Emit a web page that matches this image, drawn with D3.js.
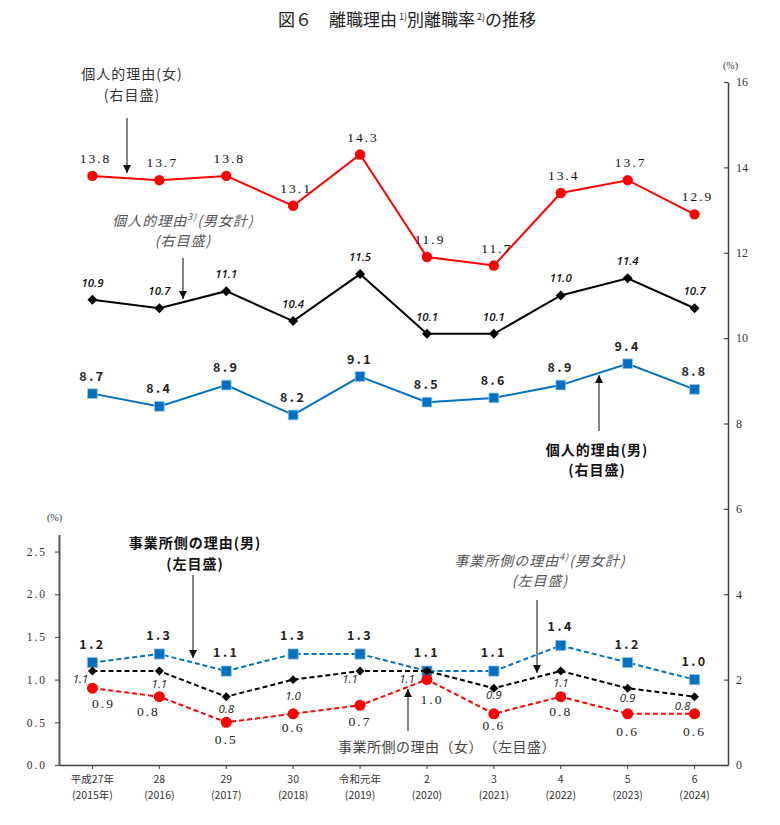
<!DOCTYPE html>
<html><head><meta charset="utf-8">
<script src="https://cdn.jsdelivr.net/npm/d3@7"></script>
<style>
body{margin:0;background:#fff;}
svg{display:block;}
</style></head>
<body>
<svg id="c" width="780" height="825" font-family="'Noto Sans CJK JP',sans-serif"></svg>
<script>
// ---- data ----
const categories = ["2015","2016","2017","2018","2019","2020","2021","2022","2023","2024"];
const xLabelTop = ["平成27年","28","29","30","令和元年","2","3","4","5","6"];
const xLabelBottom = ["(2015年)","(2016)","(2017)","(2018)","(2019)","(2020)","(2021)","(2022)","(2023)","(2024)"];
const personalFemale = [13.8,13.7,13.8,13.1,14.3,11.9,11.7,13.4,13.7,12.9];
const personalTotal  = [10.9,10.7,11.1,10.4,11.5,10.1,10.1,11.0,11.4,10.7];
const personalMale   = [8.7,8.4,8.9,8.2,9.1,8.5,8.6,8.9,9.4,8.8];
const businessMale   = [1.2,1.3,1.1,1.3,1.3,1.1,1.1,1.4,1.2,1.0];
const businessTotal  = [1.1,1.1,0.8,1.0,1.1,1.1,0.9,1.1,0.9,0.8];
const businessFemale = [0.9,0.8,0.5,0.6,0.7,1.0,0.6,0.8,0.6,0.6];
const rightTicks = [0,2,4,6,8,10,12,14,16];
const leftTicks = [0,0.5,1.0,1.5,2.0,2.5];

// label nudges (dx, dy) relative to point
const offBT = [[-12,12],[0,17],[0,16],[0,20],[-10,12],[-20,12],[0,11],[0,16],[0,14],[-12,13]];
const offBF = [[11,20],[-11,19],[0,22],[0,18],[0,21],[5,24],[0,16],[0,19],[0,22],[0,22]];

const SERIF = "'Liberation Serif','DejaVu Serif',serif";
const svg = d3.select("#c");
const x = d3.scaleBand().domain(categories).range([59,728]);
const cx = (i)=> x(categories[i]) + x.bandwidth()/2;
const yR = d3.scaleLinear().domain([0,16]).range([765,82]);
const yL = d3.scaleLinear().domain([0,2.7]).range([765,765-2.7*85.375]);

// title
const title = svg.append("text").attr("x",407).attr("y",26).attr("text-anchor","middle")
  .attr("font-size",17).attr("fill","#222");
title.append("tspan").text("図６　離職理由");
title.append("tspan").attr("font-size",9).attr("dy",-6).text(" 1)");
title.append("tspan").attr("dy",6).text("別離職率");
title.append("tspan").attr("font-size",9).attr("dy",-6).text(" 2)");
title.append("tspan").attr("dy",6).text("の推移");

// right axis
const rAxis = svg.append("g").attr("transform","translate(728,0)")
  .call(d3.axisRight(yR).tickValues(rightTicks).tickSizeInner(-4).tickSizeOuter(0).tickPadding(8));
rAxis.attr("font-family",SERIF);
rAxis.select(".domain").attr("stroke","#404040").attr("stroke-width",1.5);
rAxis.selectAll(".tick line").attr("stroke","#404040").attr("stroke-width",1.2);
rAxis.selectAll(".tick text").attr("font-size",12).attr("fill","#333");
svg.append("text").attr("x",723).attr("y",69).attr("font-size",10).attr("fill","#333")
  .attr("font-family",SERIF).text("(%)");

// left axis
const lAxis = svg.append("g").attr("transform","translate(59,0)")
  .call(d3.axisLeft(yL).tickValues(leftTicks).tickSizeInner(4).tickSizeOuter(0).tickPadding(8).tickFormat(d3.format(".1f")));
lAxis.attr("font-family",SERIF);
lAxis.select(".domain").attr("stroke","#555").attr("stroke-width",2);
lAxis.selectAll(".tick line").attr("stroke","#555").attr("stroke-width",1.2);
lAxis.selectAll(".tick text").attr("font-size",11.5).attr("letter-spacing","2px").attr("fill","#333");
svg.append("text").attr("x",47).attr("y",521).attr("font-size",10).attr("fill","#333")
  .attr("font-family",SERIF).text("(%)");

// x axis
const xAxis = svg.append("g").attr("transform","translate(0,765)")
  .call(d3.axisBottom(x).tickSizeInner(4).tickSizeOuter(0).tickFormat(""));
xAxis.select(".domain").attr("stroke","#404040").attr("stroke-width",1.5);
xAxis.selectAll(".tick line").attr("stroke","#404040");
categories.forEach((c,i)=>{
  svg.append("text").attr("x",cx(i)).attr("y",783).attr("text-anchor","middle")
    .attr("font-size",10.5).attr("fill","#333").text(xLabelTop[i]);
  svg.append("text").attr("x",cx(i)).attr("y",799).attr("text-anchor","middle")
    .attr("font-size",10.5).attr("fill","#333").text(xLabelBottom[i]);
});

function series(data, yScale, opt){
  const g = svg.append("g");
  const line = d3.line().x((d,i)=>cx(i)).y(d=>yScale(d));
  g.append("path").datum(data).attr("d",line).attr("fill","none")
    .attr("stroke",opt.color).attr("stroke-width",2)
    .attr("stroke-dasharray",opt.dash||null);
  g.selectAll(".m").data(data).enter().append("path")
    .attr("transform",(d,i)=>`translate(${cx(i)},${yScale(d)}) rotate(${opt.rot||0})`)
    .attr("d",d3.symbol().type(opt.symbol).size(opt.size)())
    .attr("fill",opt.color)
    .attr("stroke",opt.stroke||"none").attr("stroke-width",opt.stroke?0.8:0);
  g.selectAll(".l").data(data).enter().append("text")
    .attr("x",(d,i)=>cx(i)+(opt.off?opt.off[i][0]:opt.dx||0))
    .attr("y",(d,i)=>yScale(d)+(opt.off?opt.off[i][1]:opt.dy))
    .attr("text-anchor","middle")
    .attr("font-family",opt.font).attr("font-size",opt.fs)
    .attr("font-weight",opt.fw||"normal").attr("font-style",opt.fi||"normal")
    .attr("letter-spacing",opt.ls||0)
    .attr("fill",opt.tc||"#222")
    .text(d=>d.toFixed(1));
}

series(personalFemale, yR, {color:"#FF0000", symbol:d3.symbolCircle, size:85, dy:-13, dx:3,
  font:SERIF, fs:13.5, ls:"2px", tc:"#111"});
series(personalTotal, yR, {color:"#000", symbol:d3.symbolSquare, size:50, rot:45, dy:-13,
  font:"'Open Sans',sans-serif", fs:11.5, fi:"italic", fw:600, tc:"#111"});
series(personalMale, yR, {color:"#0070C0", symbol:d3.symbolSquare, size:95, stroke:"#9cc6e8", dy:-13,
  font:"'Noto Sans CJK JP',sans-serif", fs:12.5, fw:"bold", ls:"2.5px"});
series(businessMale, yL, {color:"#0070C0", symbol:d3.symbolSquare, size:105, stroke:"#9cc6e8", dy:-14, dash:"5,3",
  font:"'Noto Sans CJK JP',sans-serif", fs:12.5, fw:"bold", ls:"2.5px"});
series(businessTotal, yL, {color:"#000", symbol:d3.symbolSquare, size:40, rot:45, dash:"5,3", off:offBT,
  font:"'Open Sans',sans-serif", fs:11.5, fi:"italic"});
series(businessFemale, yL, {color:"#FF0000", symbol:d3.symbolCircle, size:95, dash:"5,3", off:offBF,
  font:SERIF, fs:13.5, ls:"2px"});

// annotations
svg.append("defs").append("marker").attr("id","ah").attr("viewBox","0 0 10 10")
  .attr("refX",10).attr("refY",5).attr("markerWidth",8).attr("markerHeight",8).attr("orient","auto")
  .attr("markerUnits","userSpaceOnUse")
  .append("path").attr("d","M0,0 L10,5 L0,10 Z").attr("fill","#111");
function arrow(x1,y1,x2,y2,c){
  svg.append("line").attr("x1",x1).attr("y1",y1).attr("x2",x2).attr("y2",y2)
    .attr("stroke",c||"#333").attr("stroke-width",1.2).attr("marker-end","url(#ah)");
}
function note(lines, xc, y0, opt){
  lines.forEach((t,i)=>{
    svg.append("text").attr("x",xc).attr("y",y0+i*(opt.lh||21)).attr("text-anchor","middle")
      .attr("font-size",opt.fs||14).attr("font-weight",opt.fw||"normal")
      .attr("font-style",opt.fi||"normal").attr("fill",opt.c||"#333")
      .attr("letter-spacing",opt.ls||"1px")
      .html(t);
  });
}
note(["個人的理由(女)","(右目盛)"],132,79,{fs:14,c:"#333"});
arrow(127,118,127,173);
note(["個人的理由<tspan font-size='9' dy='-6'>3)</tspan><tspan dy='6'>(男女計)</tspan>","(右目盛)"],183,226,{fs:14,fi:"italic",c:"#555",lh:20});
arrow(183,258,183,299);
note(["個人的理由(男)","(右目盛)"],597,455,{fs:14,fw:"bold",c:"#111",lh:20});
arrow(599,431,599,375);
note(["事業所側の理由(男)","(左目盛)"],195,548,{fs:14,fw:"bold",c:"#111",lh:21});
arrow(193,575,193,658);
note(["事業所側の理由<tspan font-size='9' dy='-6'>4)</tspan><tspan dy='6'>(男女計)</tspan>","(左目盛)"],540,566,{fs:14,fi:"italic",c:"#555",lh:20});
arrow(537,600,537,673);
note(["事業所側の理由（女）　（左目盛）"],447,752,{fs:14,c:"#444",ls:"0.5px"});
arrow(408,731,408,689);
</script>
</body></html>
